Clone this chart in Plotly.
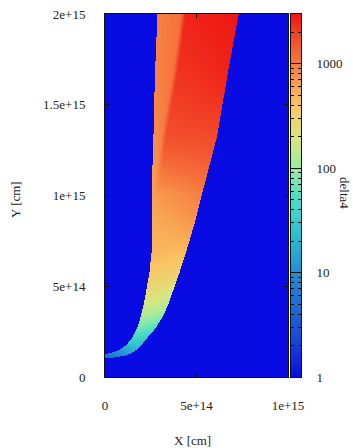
import numpy as np
import plotly.graph_objects as go

# ---- data (lengths in units of 1e15 cm) ----
EDGE_Y  = [0.105, 0.112, 0.121, 0.127, 0.135, 0.149, 0.18, 0.22, 0.27, 0.33, 0.40,
           0.48, 0.58, 0.69, 0.85, 1.02, 1.33, 1.67, 2.0]
X_LEFT  = [0.0, 0.0, 0.0, 0.0, 0.025, 0.071, 0.115, 0.147, 0.172, 0.191, 0.208,
           0.223, 0.24, 0.252, 0.252, 0.252, 0.262, 0.270, 0.284]
X_RIGHT = [0.0, 0.06, 0.11, 0.125, 0.143, 0.164, 0.197, 0.23, 0.272, 0.31, 0.342,
           0.37, 0.405, 0.44, 0.487, 0.53, 0.61, 0.667, 0.727]

VAL_Y      = [0.105, 0.15, 0.22, 0.33, 0.48, 0.69, 1.02, 1.33, 1.67, 2.0]
SPLIT_FRAC = [0.5, 0.5, 0.5, 0.5, 0.5, 0.5, 0.10, 0.167, 0.277, 0.32]
VAL_LEFT   = [3, 10, 42, 110, 260, 480, 600, 800, 900, 950]
VAL_SIN    = [3, 14, 40, 100, 240, 470, 680, 950, 1100, 1150]
VAL_SOUT   = [3, 16, 38, 95, 230, 460, 720, 1700, 2200, 2600]
VAL_RIGHT  = [3, 20, 32, 80, 190, 430, 1000, 1800, 2600, 3000]
BACKGROUND = 1.0

X_TICKS = [0, 5e14, 1e15]
X_TICKTEXT = ["0", "5e+14", "1e+15"]
Y_TICKS = [0, 5e14, 1e15, 1.5e15, 2e15]
Y_TICKTEXT = ["0", "5e+14", "1e+15", "1.5e+15", "2e+15"]
CB_TICKS = [1, 10, 100, 1000]
CB_MAX = 3000.0

W, H = 353, 448
LOGMAX = np.log10(CB_MAX)

# ---- build field on a grid ----
NX, NY = 184, 364
xs = np.linspace(0, 1, NX)
ys = np.linspace(0, 2, NY)
Z = np.full((NY, NX), np.log10(BACKGROUND))
D = 0.012
for i, y in enumerate(ys):
    if y < EDGE_Y[0]:
        continue
    xl = np.interp(y, EDGE_Y, X_LEFT)
    xr = np.interp(y, EDGE_Y, X_RIGHT)
    mask = (xs >= xl) & (xs <= xr)
    if not mask.any():
        continue
    xsp = xl + np.interp(y, VAL_Y, SPLIT_FRAC) * (xr - xl)
    a = min(max(xl, xsp - D), xr)
    b = max(min(xr, xsp + D), a)
    knots = [xl, a, b, xr]
    vals = [np.log10(np.interp(y, VAL_Y, v)) for v in (VAL_LEFT, VAL_SIN, VAL_SOUT, VAL_RIGHT)]
    if xr - xl < 1e-9:
        Z[i, mask] = vals[0]
    else:
        Z[i, mask] = np.interp(xs[mask], knots, vals)
Z = np.round(Z, 3)

CS = [
    [0.00, "rgb(8,12,226)"],
    [0.10, "rgb(25,70,215)"],
    [0.288, "rgb(38,140,212)"],
    [0.40, "rgb(45,195,208)"],
    [0.50, "rgb(80,222,196)"],
    [0.575, "rgb(155,236,162)"],
    [0.66, "rgb(218,230,128)"],
    [0.75, "rgb(250,196,98)"],
    [0.863, "rgb(246,124,64)"],
    [0.93, "rgb(242,78,44)"],
    [1.00, "rgb(238,22,18)"],
]

fig = go.Figure()
fig.add_trace(go.Heatmap(x=xs * 1e15, y=ys * 1e15, z=Z, zmin=0, zmax=LOGMAX,
                         colorscale=CS, showscale=False, xaxis="x", yaxis="y",
                         hoverinfo="skip"))
cb_y = np.linspace(0, LOGMAX, 240)
fig.add_trace(go.Heatmap(x=[0, 1], y=cb_y, z=[[v, v] for v in cb_y], zmin=0, zmax=LOGMAX,
                         colorscale=CS, showscale=False, xaxis="x2", yaxis="y2",
                         hoverinfo="skip"))

FONT = dict(family="Liberation Serif", size=13, color="#222")
ydom = [(H - 377) / H, (H - 14) / H]
minor_vals = [np.log10(k * 10 ** d) for d in range(4) for k in range(2, 10)
              if np.log10(k * 10 ** d) < LOGMAX]

fig.update_layout(
    width=W, height=H, margin=dict(l=0, r=0, t=0, b=0, autoexpand=False),
    paper_bgcolor="white", plot_bgcolor="white", font=FONT,
    xaxis=dict(domain=[105 / W, 288 / W], range=[0, 1e15], tickmode="array",
               tickvals=X_TICKS, ticktext=X_TICKTEXT, ticks="inside", ticklen=4,
               tickcolor="#111", showline=True, linecolor="#111", linewidth=1,
               mirror="ticks", showgrid=False, zeroline=False, anchor="y",
               automargin=False, ticklabelstandoff=16, tickfont=FONT),
    yaxis=dict(domain=ydom, range=[0, 2e15], tickmode="array",
               tickvals=Y_TICKS, ticktext=Y_TICKTEXT, ticks="inside", ticklen=4,
               tickcolor="#111", showline=True, linecolor="#111", linewidth=1,
               mirror="ticks", showgrid=False, zeroline=False, anchor="x",
               automargin=False, ticklabelstandoff=16, tickfont=FONT),
    xaxis2=dict(domain=[291 / W, 301 / W], range=[0, 1], showticklabels=False,
                ticks="", showline=True, linecolor="#111", linewidth=1, mirror=True,
                showgrid=False, zeroline=False, anchor="y2", automargin=False),
    yaxis2=dict(domain=ydom, range=[0, LOGMAX], anchor="x2", side="right",
                tickmode="array", tickvals=[np.log10(v) for v in CB_TICKS],
                ticktext=[str(v) for v in CB_TICKS], ticks="inside", ticklen=10,
                tickcolor="#111", showline=True, linecolor="#111", linewidth=1,
                mirror="ticks", showgrid=False, zeroline=False, automargin=False,
                minor=dict(tickmode="array", tickvals=minor_vals, ticks="inside",
                           ticklen=3, tickcolor="#111"),
                ticklabelstandoff=12, tickfont=FONT),
    annotations=[
        dict(text="X [cm]", x=192 / W, y=(H - 440) / H, xref="paper", yref="paper",
             showarrow=False, xanchor="center", yanchor="middle", font=FONT),
        dict(text="Y [cm]", x=15 / W, y=(H - 200) / H, xref="paper", yref="paper",
             showarrow=False, xanchor="center", yanchor="middle", textangle=-90, font=FONT),
        dict(text="delta4", x=345 / W, y=(H - 193) / H, xref="paper", yref="paper",
             showarrow=False, xanchor="center", yanchor="middle", textangle=90, font=FONT),
    ],
)

fig.write_html("out.html")
